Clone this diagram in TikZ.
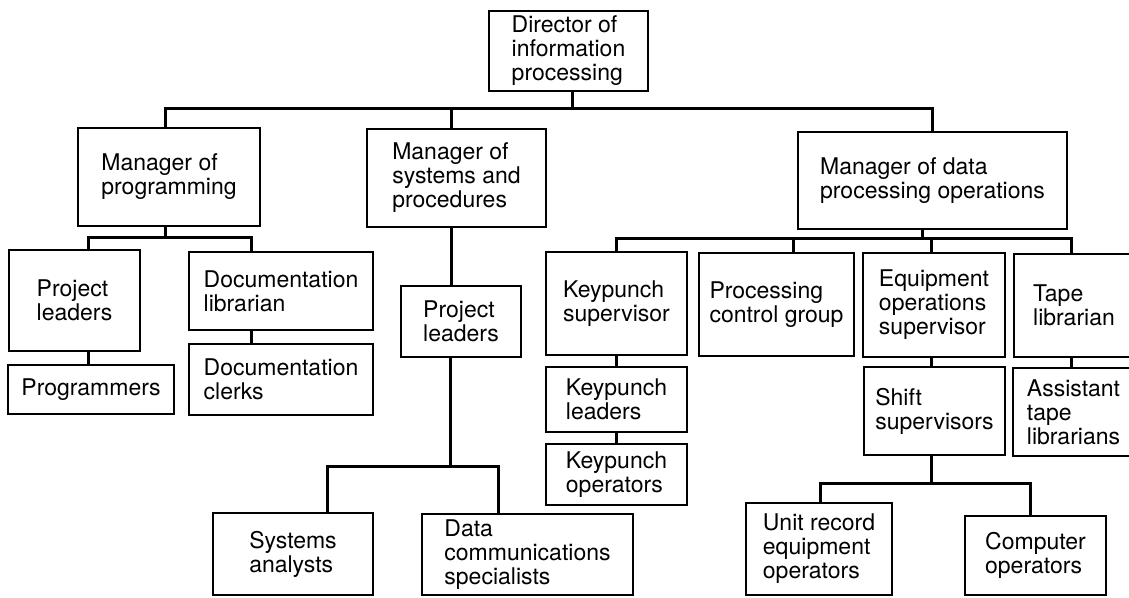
\documentclass[tikz,border=0pt]{standalone}
\usepackage{fontspec}
\setmainfont{TeX Gyre Heros}
\begin{document}
\begin{tikzpicture}[x=1pt,y=-1pt,
  orgbox/.style={draw, line width=2.1pt, align=left, inner sep=2pt,
    font=\fontsize{23pt}{24pt}\selectfont},
  conn/.style={line width=3pt, line join=miter, line cap=rect}]
% page
\fill[white] (0,0) rectangle (1129,597);
\useasboundingbox (0,0) rectangle (1129,597);

% top
\node[orgbox, minimum width=159pt, minimum height=80pt] (dir) at (568.5,51) {Director of\\information\\processing};

% second level
\node[orgbox, minimum width=182pt, minimum height=98pt] (mprog) at (169,177) {Manager of\\programming};
\node[orgbox, minimum width=179pt, minimum height=98pt] (msys) at (456.5,178) {Manager of\\systems and\\procedures};
\node[orgbox, minimum width=269pt, minimum height=97pt] (mdata) at (932.5,180.5) {Manager of data\\processing operations};

% programming branch
\node[orgbox, minimum width=131pt, minimum height=101pt] (pl1) at (74.5,300.5) {Project\\leaders};
\node[orgbox, minimum width=166pt, minimum height=49pt] (prog) at (91,389.5) {Programmers};
\node[orgbox, minimum width=184pt, minimum height=78pt] (doclib) at (281,291) {Documentation\\librarian};
\node[orgbox, minimum width=184pt, minimum height=71pt] (docclerk) at (281,379.5) {Documentation\\clerks};

% systems branch
\node[orgbox, minimum width=120pt, minimum height=71pt] (pl2) at (461,321.5) {Project\\leaders};
\node[orgbox, minimum width=160pt, minimum height=82pt] (sysan) at (293,554) {Systems\\analysts};
\node[orgbox, minimum width=211pt, minimum height=81pt] (datacom) at (527.5,554.5) {Data\\communications\\specialists};

% operations branch
\node[orgbox, minimum width=141pt, minimum height=103pt] (kpsup) at (616.5,303.5) {Keypunch\\supervisor};
\node[orgbox, minimum width=155pt, minimum height=103pt] (pcg) at (776.5,304.5) {Processing\\control group};
\node[orgbox, minimum width=142pt, minimum height=104pt] (eqsup) at (934,305) {Equipment\\operations\\supervisor};
\node[orgbox, minimum width=120pt, minimum height=103pt] (tape) at (1074,305.5) {Tape\\librarian};
\node[orgbox, minimum width=141pt, minimum height=65pt] (kplead) at (616.5,399.5) {Keypunch\\leaders};
\node[orgbox, minimum width=141pt, minimum height=61pt] (kpop) at (616.5,474.5) {Keypunch\\operators};
\node[orgbox, minimum width=141pt, minimum height=88pt] (shift) at (934.5,411) {Shift\\supervisors};
\node[orgbox, minimum width=121pt, minimum height=88pt] (asst) at (1073.5,412) {Assistant\\tape\\librarians};
\node[orgbox, minimum width=146pt, minimum height=92pt] (unit) at (819,549) {Unit record\\equipment\\operators};
\node[orgbox, minimum width=141pt, minimum height=79pt] (comp) at (1035.5,555.5) {Computer\\operators};

% junction points on the horizontal bars
\coordinate (t0) at (572,108.5);
\coordinate (t1) at (165,108.5);
\coordinate (t2) at (451,108.5);
\coordinate (t3) at (932,108.5);
\coordinate (p0) at (165,237);
\coordinate (p1) at (88,237);
\coordinate (p2) at (251,237);
\coordinate (q0) at (450,466);
\coordinate (q1) at (327,466);
\coordinate (q2) at (498,466);
\coordinate (d0) at (922,238.5);
\coordinate (d1) at (616,238.5);
\coordinate (d2) at (793,238.5);
\coordinate (d3) at (931,238.5);
\coordinate (d4) at (1071,238.5);
\coordinate (e0) at (931,483);
\coordinate (e1) at (820,483);
\coordinate (e2) at (1030,483);

% director to managers
\draw[conn] (dir.south -| t0) -- (t0);
\draw[conn] (mprog.north -| t1) -- (t1) -- (t3) -- (mdata.north -| t3);
\draw[conn] (t2) -- (msys.north -| t2);

% programming
\draw[conn] (mprog.south -| p0) -- (p0);
\draw[conn] (pl1.north -| p1) -- (p1) -- (p2) -- (doclib.north -| p2);
\draw[conn] (pl1.south -| p1) -- (prog.north -| p1);
\draw[conn] (doclib.south -| p2) -- (docclerk.north -| p2);

% systems and procedures
\draw[conn] (msys.south -| t2) -- (pl2.north -| t2);
\draw[conn] (pl2.south -| q0) -- (q0);
\draw[conn] (sysan.north -| q1) -- (q1) -- (q2) -- (datacom.north -| q2);

% data processing operations
\draw[conn] (mdata.south -| d0) -- (d0);
\draw[conn] (kpsup.north -| d1) -- (d1) -- (d4) -- (tape.north -| d4);
\draw[conn] (d2) -- (pcg.north -| d2);
\draw[conn] (d3) -- (eqsup.north -| d3);
\draw[conn] (kpsup.south -| d1) -- (kplead.north -| d1);
\draw[conn] (kplead.south -| d1) -- (kpop.north -| d1);
\draw[conn] (eqsup.south -| d3) -- (shift.north -| d3);
\draw[conn] (tape.south -| d4) -- (asst.north -| d4);
\draw[conn] (shift.south -| e0) -- (e0);
\draw[conn] (unit.north -| e1) -- (e1) -- (e2) -- (comp.north -| e2);
\end{tikzpicture}
\end{document}
